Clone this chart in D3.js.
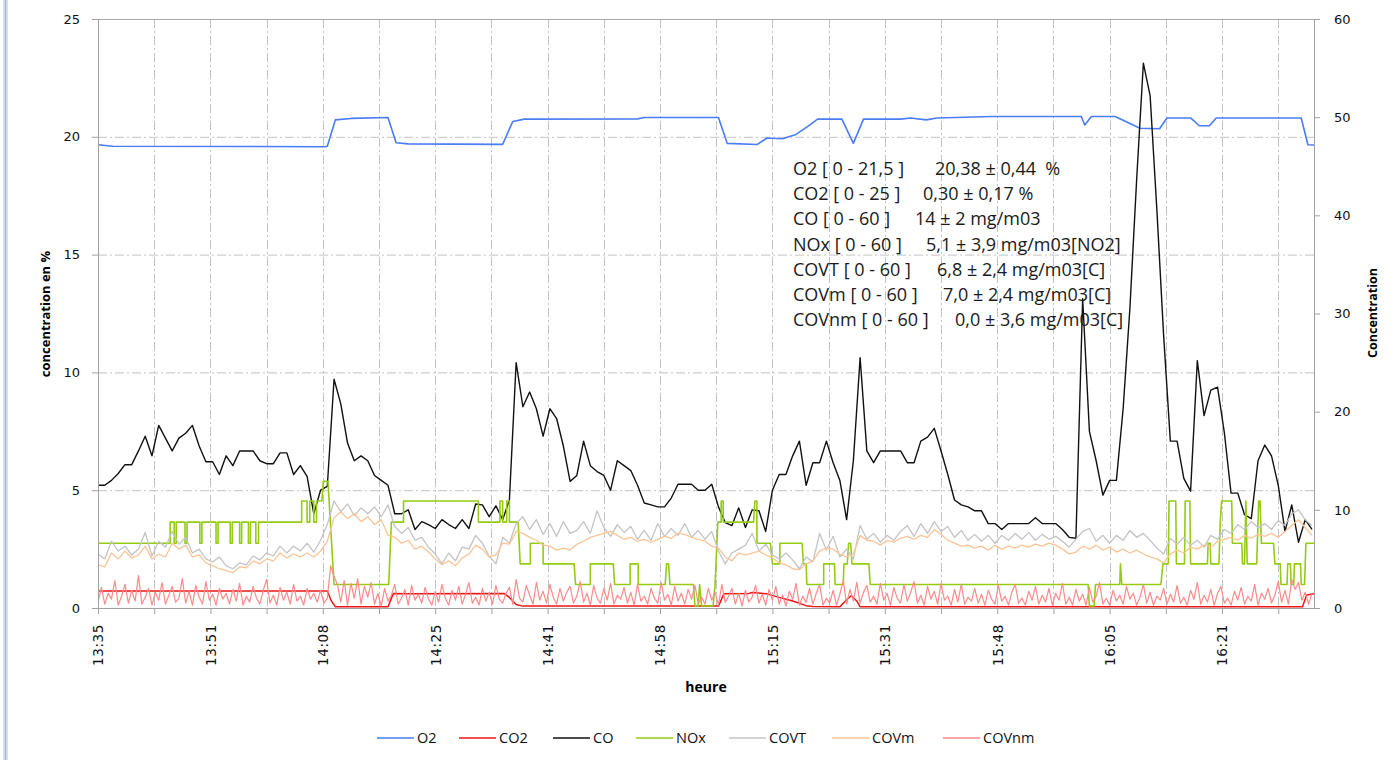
<!DOCTYPE html>
<html>
<head>
<meta charset="utf-8">
<script src="https://cdn.jsdelivr.net/npm/d3@7"></script>
<style>
  body { margin: 0; background: #fff; }
  svg { display: block; }
</style>
</head>
<body>
<svg id="chart" width="1397" height="760"></svg>
<script>
// x values are minutes since 13:35 (samples are 10 s, ticks every 50 samples)
const tickStep = 50 / 6;
const timeEnd = 180.3;
const xTickLabels = ["13:35", "13:51", "14:08", "14:25", "14:41", "14:58", "15:15", "15:31", "15:48", "16:05", "16:21"];
const leftTicks = [0, 5, 10, 15, 20, 25];
const rightTicks = [0, 10, 20, 30, 40, 50, 60];

// O2 and CO2 (left axis, %) as change points
const o2Times  = [0, 2.2, 33.7, 34.0, 35.2, 37.5, 43.0, 44.2, 46, 60, 61.5, 63.2, 80, 81, 92.0, 93.3, 97.7, 99.2, 101.5, 103.5, 105.3, 106.7, 110.3, 112.0, 113.5, 119, 120.5, 122.8, 124.4, 132.5, 145.8, 146.3, 147.3, 150.8, 154.5, 157.4, 158.5, 162.0, 163.3, 164.8, 165.8, 178.4, 179.4, 180.3];
const o2Values = [19.66, 19.6, 19.58, 19.6, 20.72, 20.78, 20.82, 19.75, 19.7, 19.68, 20.65, 20.75, 20.76, 20.82, 20.82, 19.72, 19.67, 19.95, 19.92, 20.1, 20.45, 20.75, 20.75, 19.72, 20.75, 20.75, 20.8, 20.72, 20.8, 20.86, 20.86, 20.5, 20.86, 20.86, 20.36, 20.34, 20.8, 20.8, 20.47, 20.47, 20.8, 20.8, 19.66, 19.65];

const co2Times  = [0, 34.0, 34.6, 35.2, 43.0, 43.8, 46, 60.2, 61.0, 62.0, 63, 92.0, 92.8, 96.5, 97.0, 99.2, 101, 103, 105, 106, 110, 111, 111.7, 112.5, 113, 178.6, 179.2, 180.3];
const co2Values = [0.72, 0.72, 0.3, 0.05, 0.05, 0.62, 0.6, 0.62, 0.45, 0.15, 0.08, 0.08, 0.6, 0.62, 0.66, 0.6, 0.45, 0.3, 0.1, 0.06, 0.05, 0.35, 0.52, 0.3, 0.05, 0.05, 0.55, 0.6];

// NOx (right axis, mg/m3) as change points
const noxTimes  = [0, 10.7, 10.7, 11.3, 11.3, 11.6, 11.6, 12.9, 12.9, 13.2, 13.2, 15.1, 15.1, 15.4, 15.4, 17.5, 17.5, 17.8, 17.8, 19.6, 19.6, 19.9, 19.9, 21.0, 21.0, 21.3, 21.3, 22.3, 22.3, 22.6, 22.6, 23.4, 23.4, 23.8, 23.8, 30.2, 30.2, 31.0, 31.0, 31.4, 31.4, 32.0, 32.0, 32.4, 32.4, 33.2, 33.4, 34.1, 35.0, 43.1, 43.5, 45.3, 45.3, 56.4, 56.4, 59.6, 59.6, 60.0, 60.0, 60.6, 60.6, 61.0, 61.0, 62.3, 62.6, 64.1, 64.1, 66.0, 66.0, 70.6, 70.8, 73.0, 73.0, 76.4, 76.6, 78.9, 78.9, 80.1, 80.1, 84.1, 84.3, 84.6, 84.8, 88.3, 88.5, 89.0, 89.2, 89.5, 91.2, 91.5, 91.9, 92.4, 92.4, 92.7, 92.7, 97.2, 97.4, 97.7, 97.7, 99.7, 100.0, 101.1, 101.1, 104.4, 104.6, 105.0, 105.1, 107.6, 107.6, 109.2, 109.3, 110.5, 110.6, 111.1, 111.3, 111.6, 111.8, 114.3, 114.5, 146.8, 147.0, 147.7, 147.9, 151.5, 151.6, 151.8, 157.6, 157.9, 158.7, 158.8, 159.8, 159.9, 161.1, 161.2, 161.9, 162.0, 164.5, 164.6, 164.9, 165.0, 166.2, 166.4, 166.6, 168.1, 168.2, 169.6, 169.7, 170.0, 170.2, 170.4, 171.8, 172.1, 172.3, 172.5, 174.3, 174.5, 175.3, 175.4, 176.3, 176.4, 176.8, 176.9, 177.3, 177.4, 178.3, 178.4, 178.9, 179.1, 180.3];
const noxValues = [6.6, 6.6, 8.75, 8.75, 6.6, 6.6, 8.75, 8.75, 6.6, 6.6, 8.75, 8.75, 6.6, 6.6, 8.75, 8.75, 6.6, 6.6, 8.75, 8.75, 6.6, 6.6, 8.75, 8.75, 6.6, 6.6, 8.75, 8.75, 6.6, 6.6, 8.75, 8.75, 6.6, 6.6, 8.75, 8.75, 10.9, 10.9, 8.75, 8.75, 10.9, 10.9, 8.75, 8.75, 10.9, 10.9, 12.9, 12.9, 2.4, 2.4, 8.75, 8.75, 10.9, 10.9, 8.75, 8.75, 10.9, 10.9, 8.75, 8.75, 10.9, 10.9, 8.75, 8.75, 4.5, 4.5, 6.6, 6.6, 4.5, 4.5, 2.4, 2.4, 4.5, 4.5, 2.4, 2.4, 4.5, 4.5, 2.4, 2.4, 4.5, 4.5, 2.4, 2.4, 0.2, 0.2, 2.4, 0.2, 0.2, 2.4, 8.75, 8.75, 10.9, 10.9, 8.75, 8.75, 10.9, 10.9, 6.6, 6.6, 4.5, 4.5, 6.6, 6.6, 4.5, 4.5, 2.4, 2.4, 4.5, 4.5, 2.4, 2.4, 4.5, 4.5, 6.6, 6.6, 4.5, 4.5, 2.4, 2.4, 0.2, 0.2, 2.4, 2.4, 4.5, 2.4, 2.4, 4.5, 4.5, 10.9, 10.9, 4.5, 4.5, 10.9, 10.9, 4.5, 4.5, 6.6, 6.6, 4.5, 4.5, 8.75, 10.9, 10.9, 6.6, 6.6, 4.5, 4.5, 10.9, 4.5, 4.5, 10.9, 10.9, 6.6, 6.6, 4.5, 4.5, 2.4, 2.4, 4.5, 4.5, 2.4, 2.4, 4.5, 4.5, 2.4, 2.4, 6.6, 6.6];

// one value per minute (right axis, mg/m3)
const coValues = [
  12.5, 12.5, 13.0, 13.7, 14.6, 14.6, 16.0, 17.5, 15.5, 18.6,
  17.3, 16.0, 17.3, 17.8, 18.6, 16.5, 14.9, 14.9, 13.6, 15.5,
  14.5, 16.0, 16.0, 16.0, 15.0, 14.7, 14.7, 15.8, 15.8, 13.6,
  14.5, 13.4, 9.6, 12.0, 12.4, 23.3, 20.8, 16.8, 15.0, 15.5,
  15.0, 13.5, 13.0, 12.5, 9.6, 9.6, 10.0, 8.0, 8.8, 8.5,
  8.1, 9.0, 8.5, 8.1, 9.0, 8.1, 10.6, 10.5, 9.3, 10.4,
  9.0, 11.0, 25.0, 20.5, 22.0, 20.3, 17.5, 20.3, 19.3, 16.5,
  12.9, 13.5, 17.0, 14.5, 13.9, 13.5, 12.0, 15.0, 14.5, 14.0,
  12.5, 10.7, 10.5, 10.3, 10.3, 11.2, 12.6, 12.6, 12.6, 12.0,
  12.0, 12.6, 10.3, 8.7, 8.4, 10.2, 8.2, 10.0, 9.9, 7.8,
  12.0, 13.6, 13.6, 15.5, 17.0, 12.5, 14.8, 14.8, 17.0, 14.8,
  13.0, 9.0, 15.0, 25.5, 16.0, 14.8, 16.0, 16.0, 16.0, 16.0,
  14.8, 14.8, 17.0, 17.4, 18.3, 16.0, 13.6, 11.0, 10.5, 10.3,
  9.9, 9.9, 8.6, 8.6, 8.0, 8.6, 8.6, 8.6, 8.6, 9.2,
  8.6, 8.6, 8.6, 8.0, 7.2, 7.1, 31.5, 18.0, 15.0, 11.5,
  13.0, 13.0, 20.3, 30.5, 43.6, 55.5, 52.2, 40.6, 27.8, 17.0,
  17.0, 13.2, 11.9, 25.2, 19.6, 22.2, 22.5, 17.9, 11.7, 11.7,
  9.5, 9.1, 15.0, 16.6, 15.5, 12.5, 7.8, 10.5, 6.7, 9.0,
  8.0
];
const covtValues = [
  5.5, 5.0, 6.8, 5.8, 6.3, 5.4, 6.0, 7.7, 5.3, 6.8,
  6.2, 7.8, 6.5, 7.2, 5.6, 6.0, 5.0, 4.7, 5.2, 4.3,
  4.0, 4.6, 4.4, 5.3, 4.9, 5.6, 5.3, 6.3, 5.6, 6.3,
  5.8, 6.6, 5.7, 6.9, 8.5, 10.9, 9.8, 10.6, 9.4, 10.2,
  9.6, 10.3, 9.3, 10.5, 8.3, 7.6, 8.2, 6.9, 7.2, 6.2,
  5.5, 4.5, 5.6, 4.8, 6.2, 6.0, 7.4, 6.6, 5.3, 4.5,
  7.2, 6.6, 8.6, 9.3, 8.0, 9.0, 7.5, 8.6, 7.3, 8.8,
  7.6, 7.9, 8.8, 7.6, 9.9, 8.2, 7.3, 8.5, 7.7, 8.3,
  7.0, 7.9, 6.9, 8.6, 7.3, 8.1, 7.4, 8.6, 7.2, 7.9,
  7.0, 7.8, 5.8, 4.5, 5.6, 6.0, 6.4, 7.6, 5.8, 6.5,
  5.4, 5.0, 5.6, 4.9, 4.0, 5.2, 4.7, 7.6, 5.9, 7.3,
  5.2, 6.0, 5.0, 8.4, 7.0, 7.6, 6.7, 7.4, 6.9, 7.8,
  8.4, 7.3, 8.6, 7.6, 8.8, 7.8, 8.3, 7.2, 7.9, 6.9,
  7.5, 6.8, 7.4, 6.6, 7.4, 6.9, 7.6, 7.0, 7.7, 6.9,
  7.5, 7.0, 7.3, 6.8, 6.2, 7.0, 7.8, 8.1, 6.8, 7.4,
  6.6, 7.4, 6.9, 7.9, 7.2, 7.6, 6.9, 6.1, 5.5, 7.1,
  6.5, 7.2, 6.4, 6.9, 6.2, 7.4, 7.0, 8.0, 7.6, 8.5,
  8.0, 8.8, 8.2, 8.6, 8.0, 8.9, 8.4, 9.6, 10.0, 9.0,
  8.4
];
const covmValues = [
  4.4, 4.2, 5.6, 5.0, 5.8, 5.1, 5.4, 6.3, 5.0, 5.5,
  5.2, 6.6, 6.0, 6.4, 5.2, 5.4, 4.6, 4.3, 4.0, 3.8,
  3.6, 4.2, 4.1, 4.8, 4.5, 5.0, 4.8, 5.6, 5.1, 5.5,
  5.2, 5.6, 5.2, 5.8, 6.8, 9.2, 9.8, 9.1, 9.6, 8.8,
  9.3, 8.5, 9.0, 7.4, 7.2, 6.6, 6.9, 6.0, 6.3, 5.7,
  5.0, 4.4, 4.8, 4.3, 5.1, 5.5, 6.4, 6.0, 5.2, 5.4,
  6.6, 6.5, 7.8, 7.6, 7.2, 6.9, 6.4, 6.3, 5.9, 6.1,
  5.9, 6.5, 6.8, 7.2, 7.4, 7.6, 7.8, 7.4, 7.0, 7.2,
  6.8, 7.0, 6.7, 7.0, 7.3, 7.1, 7.6, 7.5, 7.2, 7.0,
  6.8, 6.3, 6.1, 5.2, 4.8, 5.6, 5.4, 5.6, 5.8, 5.4,
  5.1, 4.6, 4.4, 4.0, 3.9, 4.5, 4.8, 5.8, 6.1, 6.0,
  5.5, 5.2, 5.5, 7.4, 6.9, 6.8, 6.4, 6.9, 6.7, 7.1,
  7.3, 7.0, 7.4, 7.2, 8.0, 7.5, 6.9, 6.6, 6.3, 6.4,
  6.1, 6.3, 5.9, 6.4, 6.0, 6.3, 6.1, 6.4, 6.2, 6.5,
  6.3, 6.6, 6.4, 6.0, 5.5, 5.7, 6.3, 6.0, 6.4, 5.9,
  6.2, 5.7, 6.0, 5.6, 5.9, 5.5, 5.2, 5.0, 4.6, 5.5,
  5.9, 5.6, 6.2, 6.0, 6.4, 6.2, 6.8, 7.0, 7.2, 6.9,
  7.4, 7.1, 7.5, 7.3, 7.6, 7.2, 7.8, 8.4, 9.0, 8.2,
  7.4
];
// one value per half minute
const covnmValues = [
  0.6, 2.1, 0.4, 1.5, 0.9, 2.8, 0.3, 1.2, 2.4, 0.5, 1.8, 0.7, 3.3, 0.4, 1.1, 2.0, 0.3, 1.6, 0.8, 2.6,
  0.4, 1.3, 2.2, 0.6, 1.0, 3.0, 0.5, 1.7, 0.3, 2.3, 1.1, 0.4, 2.7, 0.8, 1.4, 0.3, 2.0, 0.9, 1.5, 0.4,
  1.9, 0.7, 2.5, 0.3, 1.2, 0.6, 2.2, 1.0, 0.4, 1.8, 2.9, 0.5, 1.3, 0.3, 2.1, 0.8, 1.6, 0.4, 2.4, 0.7,
  1.2, 0.3, 2.0, 0.9, 1.5, 0.6, 1.8, 0.5, 1.0, 4.3, 3.2, 2.4, 0.6, 2.8, 0.3, 2.5, 1.0, 3.0, 0.4, 2.2,
  1.1, 2.6, 0.4, 1.5, 0.2, 2.0, 0.7, 1.3, 2.4, 0.4, 1.0, 1.9, 0.3, 2.3, 0.8, 1.4, 0.5, 2.1, 0.9, 0.3,
  1.7, 0.6, 2.4, 1.0, 0.3, 1.8, 0.8, 2.2, 0.4, 1.4, 2.6, 0.5, 1.1, 0.3, 2.0, 0.7, 1.6, 0.4, 2.3, 0.9,
  0.5, 1.5, 2.1, 0.4, 2.9, 1.0, 0.6, 2.3, 1.3, 0.4, 2.6, 0.8, 1.7, 0.5, 2.4, 1.1, 0.4, 2.0, 0.7, 1.6,
  2.2, 0.5, 1.2, 2.7, 0.6, 1.5, 0.3, 2.3, 1.0, 0.5, 2.0, 0.8, 2.5, 0.4, 1.3, 0.9, 2.1, 0.5, 1.6, 0.3,
  2.4, 0.7, 1.2, 0.4, 2.0, 1.0, 0.5, 2.6, 0.8, 1.4, 0.3, 2.2, 0.7, 1.5, 0.4, 1.9, 0.9, 2.3, 0.5, 1.1,
  0.4, 2.0, 0.8, 1.6, 0.3, 2.4, 0.6, 1.2, 2.0, 0.4, 1.5, 0.2, 1.8, 0.6, 1.1, 2.3, 0.5, 1.4, 0.3, 1.9,
  0.8, 2.2, 0.4, 1.3, 0.2, 1.7, 0.9, 2.5, 0.3, 1.2, 0.6, 2.0, 0.4, 1.5, 2.4, 0.3, 1.0, 0.5, 1.8, 0.3,
  1.4, 2.8, 0.4, 1.9, 0.7, 2.6, 0.5, 1.6, 2.3, 0.6, 1.2, 0.4, 2.5, 0.8, 1.5, 0.3, 2.1, 1.0, 0.5, 2.4,
  0.7, 1.6, 2.7, 0.5, 1.3, 0.3, 2.2, 0.9, 1.7, 0.4, 2.5, 0.8, 1.2, 0.3, 1.9, 0.6, 2.4, 0.4, 1.1, 0.7,
  2.0, 0.5, 1.4, 0.3, 1.8, 0.9, 0.4, 2.3, 0.7, 1.2, 0.3, 1.6, 2.4, 0.5, 1.0, 0.3, 1.7, 0.8, 2.2, 0.4,
  1.3, 0.6, 2.0, 0.3, 1.5, 0.8, 2.5, 0.4, 1.1, 0.3, 1.9, 0.7, 1.4, 0.3, 2.1, 0.6, 1.2, 2.6, 0.4, 1.0,
  0.3, 1.8, 0.7, 1.3, 0.4, 2.2, 0.9, 1.5, 0.3, 1.1, 2.4, 0.5, 1.6, 0.3, 1.2, 0.8, 2.0, 0.4, 1.4, 0.6,
  2.3, 0.5, 1.1, 0.3, 1.8, 0.9, 2.6, 0.4, 1.3, 0.6, 1.9, 0.3, 1.5, 2.2, 0.5, 1.0, 0.3, 1.7, 0.8, 2.1,
  0.4, 1.2, 0.7, 2.4, 0.3, 1.5, 0.9, 2.0, 0.5, 1.3, 2.7, 0.6, 1.8, 0.4, 2.9, 1.9, 2.6, 0.8, 1.6, 0.4,
  1.5
];

// legend and summary text
const seriesNames  = ["O2", "CO2", "CO", "NOx", "COVT", "COVm", "COVnm"];
const seriesColors = ["#4a7cf5", "#f01515", "#111111", "#94cc14", "#c4c4c4", "#fbc496", "#ff8a8a"];
const summaryNames  = ["O2 [ 0 - 21,5 ]", "CO2 [ 0 - 25 ]", "CO [ 0 - 60 ]", "NOx [ 0 - 60 ]", "COVT [ 0 - 60 ]", "COVm [ 0 - 60 ]", "COVnm [ 0 - 60 ]"];
const summaryValues = ["20,38 \u00b1 0,44  %", "0,30 \u00b1 0,17 %", "14 \u00b1 2 mg/m03", "5,1 \u00b1 3,9 mg/m03[NO2]", "6,8 \u00b1 2,4 mg/m03[C]", "7,0 \u00b1 2,4 mg/m03[C]", "0,0 \u00b1 3,6 mg/m03[C]"];

// ---- layout
const plotLeft = 98, plotRight = 1314, plotTop = 19, plotBottom = 608;
const tickFont = "'DejaVu Sans', Verdana, sans-serif";
const textFont = "'Open Sans', 'Liberation Sans', sans-serif";

const x = d3.scaleLinear().domain([0, timeEnd]).range([plotLeft, plotRight]);
const yLeft = d3.scaleLinear().domain([0, 25]).range([plotBottom, plotTop]);
const yRight = d3.scaleLinear().domain([0, 60]).range([plotBottom, plotTop]);
const xTicks = d3.range(22).map(i => i * tickStep);

const svg = d3.select("#chart");
svg.append("rect").attr("width", 1397).attr("height", 760).attr("fill", "#fff");

// window frame at the left edge
svg.append("rect").attr("x", 3).attr("y", 0).attr("width", 5).attr("height", 760).attr("fill", "#d3deec");
svg.append("rect").attr("x", 5).attr("y", 0).attr("width", 1).attr("height", 760).attr("fill", "#9fb3cf");

// grid
const grid = svg.append("g");
grid.selectAll(".hg").data(leftTicks.filter(d => d > 0 && d < 25)).join("line")
  .attr("x1", plotLeft).attr("x2", plotRight)
  .attr("y1", d => yLeft(d) + 0.5).attr("y2", d => yLeft(d) + 0.5)
  .attr("stroke", "#c3c3c3").attr("stroke-dasharray", "9,3,2,3");
grid.selectAll(".vg").data(xTicks.slice(1)).join("line")
  .attr("x1", d => Math.round(x(d)) + 0.5).attr("x2", d => Math.round(x(d)) + 0.5)
  .attr("y1", plotTop).attr("y2", plotBottom)
  .attr("stroke", "#c3c3c3").attr("stroke-dasharray", "9,3,2,3");
grid.append("line").attr("x1", plotLeft).attr("x2", plotRight).attr("y1", plotTop + 0.5).attr("y2", plotTop + 0.5)
  .attr("stroke", "#a8a8a8");

// series
const plot = svg.append("g");
plot.append("clipPath").attr("id", "clip").append("rect")
  .attr("x", plotLeft).attr("y", plotTop - 2).attr("width", plotRight - plotLeft).attr("height", plotBottom - plotTop + 2);
const lines = plot.append("g").attr("clip-path", "url(#clip)");

function pairs(times, values) {
  return values.map((v, i) => ({ t: times[i], v: v }));
}
function every(step, values) {
  return values.map((v, i) => ({ t: i * step, v: v }));
}
const lineLeft = d3.line().x(d => x(d.t)).y(d => yLeft(d.v));
const lineRight = d3.line().x(d => x(d.t)).y(d => yRight(d.v));

const series = [
  { data: pairs(o2Times, o2Values), gen: lineLeft, w: 1.6 },
  { data: pairs(co2Times, co2Values), gen: lineLeft, w: 1.5 },
  { data: every(1, coValues), gen: lineRight, w: 1.4 },
  { data: pairs(noxTimes, noxValues), gen: lineRight, w: 1.6 },
  { data: every(1, covtValues), gen: lineRight, w: 1.3 },
  { data: every(1, covmValues), gen: lineRight, w: 1.3 },
  { data: every(0.5, covnmValues), gen: lineRight, w: 1.2 }
];
series.forEach((s, i) => {
  lines.append("path")
    .datum(s.data)
    .attr("fill", "none")
    .attr("stroke", seriesColors[i])
    .attr("stroke-width", s.w)
    .attr("stroke-linejoin", "round")
    .attr("d", s.gen);
});

// axes
function styleAxis(g) {
  g.select(".domain").attr("stroke", "#a0a0a0");
  g.selectAll(".tick line").attr("stroke", "#a0a0a0");
  g.selectAll(".tick text").attr("fill", "#111").style("font-family", tickFont).style("font-size", "13px");
}
svg.append("g").attr("transform", `translate(${plotLeft},0)`)
  .call(d3.axisLeft(yLeft).tickValues(leftTicks).tickSize(6).tickSizeOuter(0).tickPadding(12))
  .call(styleAxis);
svg.append("g").attr("transform", `translate(${plotRight},0)`)
  .call(d3.axisRight(yRight).tickValues(rightTicks).tickSize(6).tickSizeOuter(0).tickPadding(14))
  .call(styleAxis);
const xAxis = svg.append("g").attr("transform", `translate(0,${plotBottom})`)
  .call(d3.axisBottom(x).tickValues(xTicks).tickSize(6).tickSizeOuter(0)
    .tickFormat((d, i) => i % 2 === 0 ? xTickLabels[i / 2] : ""))
  .call(styleAxis);
xAxis.selectAll(".tick text")
  .attr("x", 0).attr("y", 0).attr("dy", "0.36em")
  .attr("text-anchor", "end")
  .style("font-size", "13.5px").style("letter-spacing", "0.6px")
  .attr("transform", "translate(0,16) rotate(-90)");

// axis titles
svg.append("text").attr("transform", "translate(50,314) rotate(-90)")
  .attr("text-anchor", "middle").style("font-family", textFont).style("font-size", "13px")
  .style("font-weight", "bold").text("concentration en %");
svg.append("text").attr("transform", "translate(1377,313) rotate(-90)")
  .attr("text-anchor", "middle").style("font-family", textFont).style("font-size", "12.5px")
  .style("font-weight", "bold").text("Concentration");
svg.append("text").attr("x", (plotLeft + plotRight) / 2).attr("y", 692)
  .attr("text-anchor", "middle").style("font-family", textFont).style("font-size", "14px")
  .style("font-weight", "bold").text("heure");

// summary block
const valueX = [935, 923, 915, 926, 937, 943, 955];
const summary = svg.append("g").style("font-family", textFont).style("font-size", "18px").attr("fill", "#1a1a1a");
summaryNames.forEach((name, i) => {
  const yy = 175 + i * 25.2;
  summary.append("text").attr("x", 793).attr("y", yy).text(name);
  summary.append("text").attr("x", valueX[i]).attr("y", yy).style("white-space", "pre").text(summaryValues[i]);
});

// legend
const legendX = [377, 459, 553, 636, 729, 832, 943];
const legend = svg.append("g").style("font-family", textFont).style("font-size", "14.5px");
seriesNames.forEach((name, i) => {
  legend.append("line").attr("x1", legendX[i]).attr("x2", legendX[i] + 37)
    .attr("y1", 738).attr("y2", 738).attr("stroke", seriesColors[i]).attr("stroke-width", 1.6);
  legend.append("text").attr("x", legendX[i] + 40).attr("y", 743).attr("fill", "#111").text(name);
});
</script>
</body>
</html>
